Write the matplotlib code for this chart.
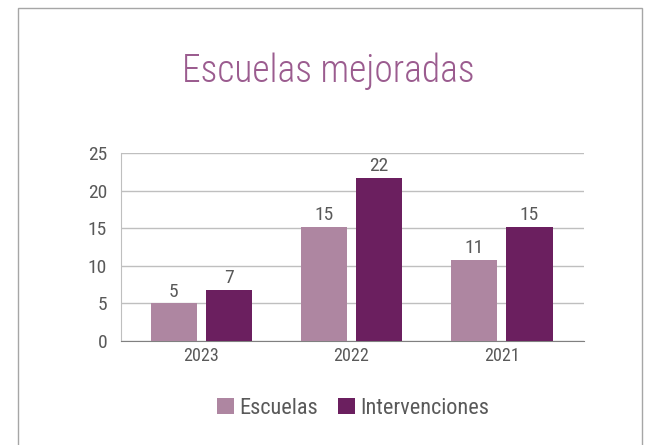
import numpy as np
import matplotlib
matplotlib.use("Agg")
import matplotlib.pyplot as plt
from matplotlib.patches import Rectangle

plt.rcParams['font.family'] = ['Roboto Condensed', 'DejaVu Sans']

years = ["2023", "2022", "2021"]
escuelas = [5.0, 15.2, 10.8]
intervenciones = [6.8, 21.7, 15.2]
escuelas_labels = ["5", "15", "11"]
intervenciones_labels = ["7", "22", "15"]

c_esc = "#AE86A1"
c_int = "#6B1F5F"
c_text = "#595959"

fig = plt.figure(figsize=(6.58, 4.45), dpi=100)
ax = fig.add_axes([0.184, 0.2337, 0.7035, 0.4223])

x = np.arange(len(years))
w = 0.306
gap = 0.06
b1 = ax.bar(x - w / 2 - gap / 2, escuelas, w, color=c_esc, label="Escuelas", zorder=3)
b2 = ax.bar(x + w / 2 + gap / 2, intervenciones, w, color=c_int, label="Intervenciones", zorder=3)
ax.bar_label(b1, labels=escuelas_labels, padding=2, fontsize=14, color=c_text)
ax.bar_label(b2, labels=intervenciones_labels, padding=2, fontsize=14, color=c_text)

ax.set_xlim(-0.532, 2.545)
ax.set_ylim(0, 25)
ax.set_yticks(range(0, 26, 5))
ax.set_xticks(x)
ax.set_xticklabels(years)
ax.tick_params(axis='y', length=0, labelsize=14, labelcolor=c_text, pad=10)
ax.tick_params(axis='x', length=0, labelsize=13, labelcolor=c_text, pad=4)
ax.yaxis.grid(True, color="#BFBFBF", linewidth=1, zorder=0)
for s in ["top", "right"]:
    ax.spines[s].set_visible(False)
ax.spines["left"].set_color("#BFBFBF")
ax.spines["bottom"].set_color("#808080")

fig.text(0.4985, 1 - 82 / 445, "Escuelas mejoradas", ha="center", va="baseline",
         fontsize=27, fontweight="light", color="#9B5C8F")

fig.legend(handles=[b1, b2], loc="center", bbox_to_anchor=(0.537, 0.083),
           ncol=2, frameon=False, fontsize=16, labelcolor=c_text,
           handlelength=0.75, handleheight=0.75, handletextpad=0.25, columnspacing=0.88)

fig.patches.append(Rectangle((18 / 658, -0.1), 624 / 658, 1.1 - 8 / 445,
                             transform=fig.transFigure, fill=False,
                             edgecolor="#A6A6A6", linewidth=1))

fig.savefig("out.png", dpi=100)
